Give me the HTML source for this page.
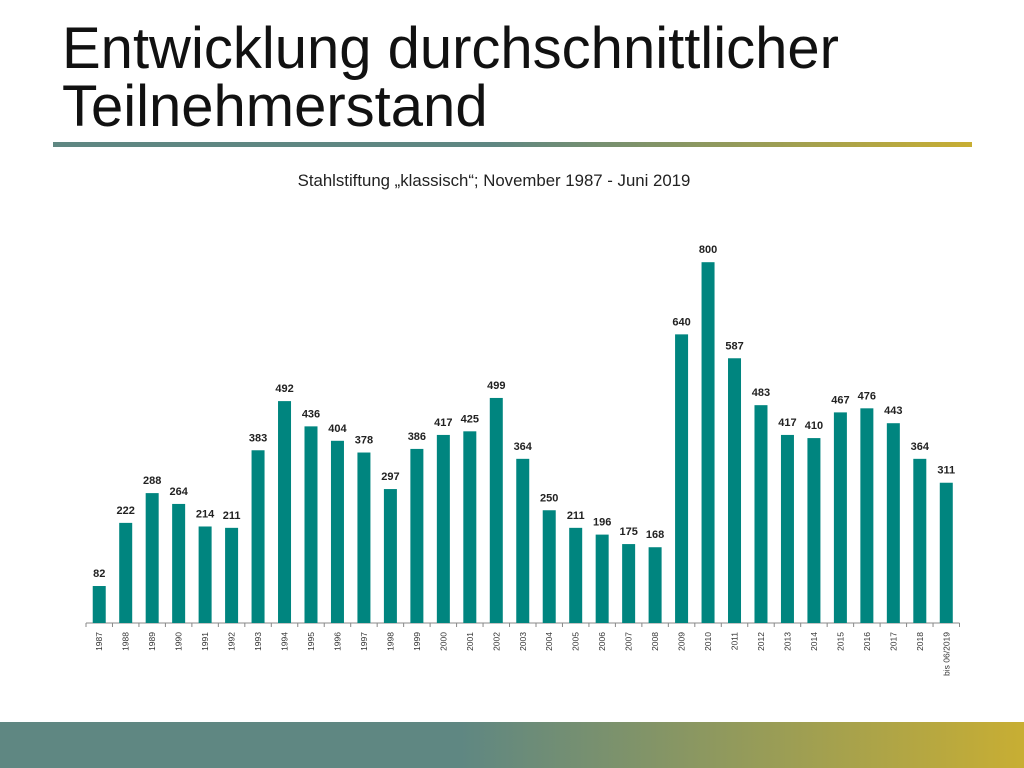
<!DOCTYPE html>
<html><head><meta charset="utf-8"><style>
body{margin:0;width:1024px;height:768px;background:#fff;position:relative;overflow:hidden;font-family:"Liberation Sans",sans-serif}
.title{position:absolute;left:62px;top:20px;font-size:58px;line-height:58px;color:#111}
.rule{position:absolute;left:53px;top:142px;width:919px;height:5px;background:linear-gradient(90deg,#5f8782 0%,#5f8782 48%,#c8ae33 100%)}
.foot{position:absolute;left:0;top:722px;width:1024px;height:46px;background:linear-gradient(90deg,#5f8782 0%,#5f8782 45%,#c8ae33 100%)}
.sub{position:absolute;left:0;width:988px;top:171px;text-align:center;font-size:16.8px;color:#222}
</style></head><body>
<div class="title">Entwicklung durchschnittlicher<br>Teilnehmerstand</div>
<div class="rule"></div>
<div class="sub">Stahlstiftung „klassisch“; November 1987 - Juni 2019</div>
<svg id="chart" width="1024" height="768" style="position:absolute;left:0;top:0"></svg>
<div class="foot"></div>
<script>
const categories=["1987","1988","1989","1990","1991","1992","1993","1994","1995","1996","1997","1998","1999","2000","2001","2002","2003","2004","2005","2006","2007","2008","2009","2010","2011","2012","2013","2014","2015","2016","2017","2018","bis 06/2019"];
const values=[82,222,288,264,214,211,383,492,436,404,378,297,386,417,425,499,364,250,211,196,175,168,640,800,587,483,417,410,467,476,443,364,311];
const svg=document.getElementById('chart');
const NS='http://www.w3.org/2000/svg';
const x0=86,step=26.47,base=623,scale=0.451,bw=13;
const xPos=i=>x0+step*i+step/2;
const yPos=v=>base-v*scale;
function mk(t,a){const e=document.createElementNS(NS,t);for(const k in a)e.setAttribute(k,a[k]);svg.appendChild(e);return e;}
const ax=mk('line',{x1:x0,x2:x0+step*categories.length,y1:base,y2:base,stroke:'#888','stroke-width':1});


for(let i=0;i<=categories.length;i++){
 const t=mk('line',{x1:x0+step*i,x2:x0+step*i,y1:base,y2:base+4,stroke:'#888'});
 
 
}
values.forEach((v,i)=>{
 const r=mk('rect',{x:xPos(i)-bw/2,y:yPos(v),width:bw,height:v*scale,fill:'#00857f'});
 
 
 const l=mk('text',{x:xPos(i),y:yPos(v)-9,'text-anchor':'middle','font-size':11,'font-weight':'bold',fill:'#222','font-family':'Liberation Sans, sans-serif'});
 l.textContent=v;
 
 
 const c=mk('text',{x:0,y:0,'text-anchor':'end','font-size':8.5,fill:'#333','font-family':'Liberation Sans, sans-serif',transform:`translate(${xPos(i)+3},${base+9}) rotate(-90)`});
 c.textContent=categories[i];
 
 
});
</script>
</body></html>
